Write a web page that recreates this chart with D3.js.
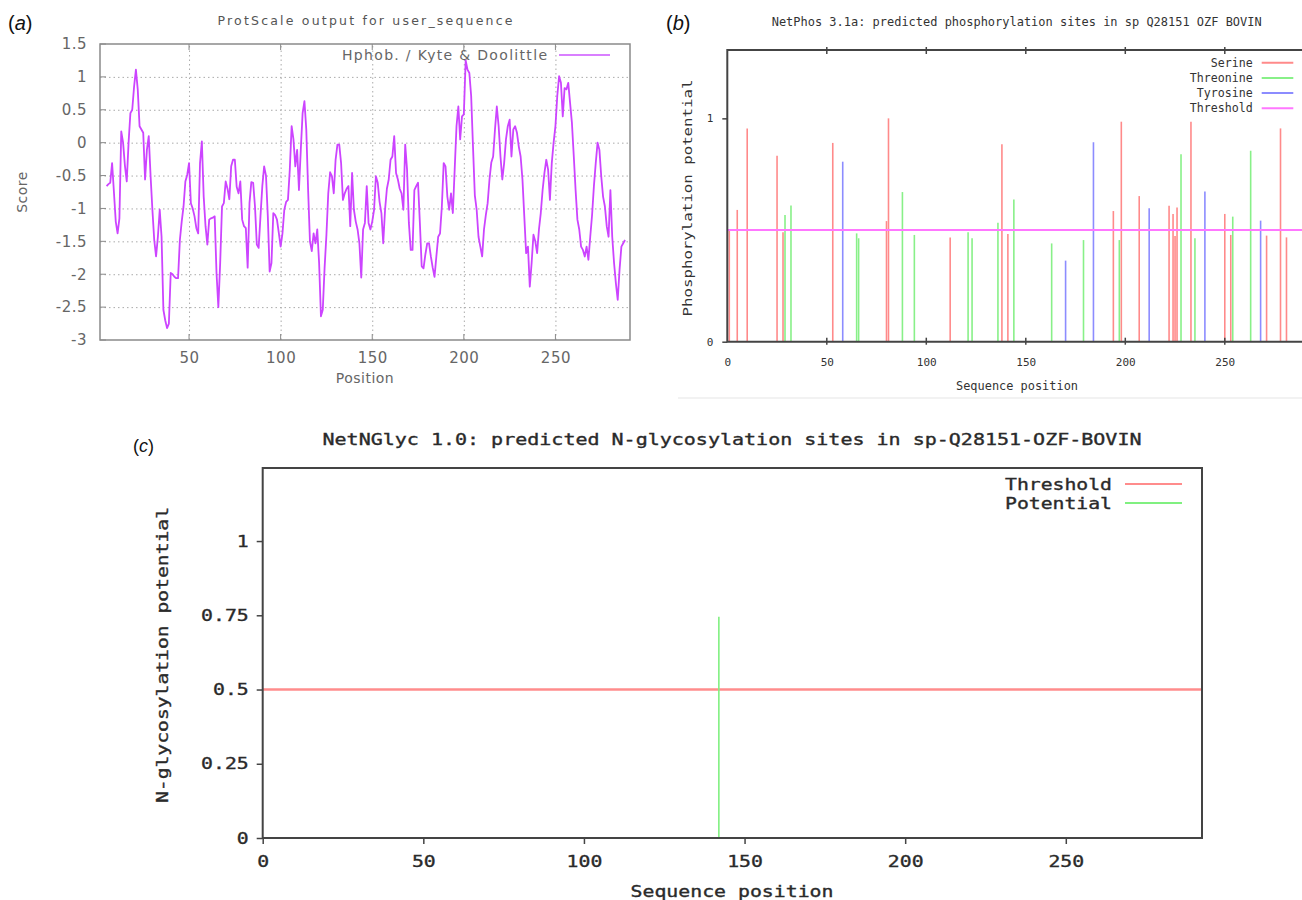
<!DOCTYPE html>
<html>
<head>
<meta charset="utf-8">
<script src="https://cdn.jsdelivr.net/npm/d3@7"></script>
<style>
  body { margin: 0; background: #fff; }
  svg { display: block; }
  .mono { font-family: "DejaVu Sans Mono", monospace; }
  .sans { font-family: "DejaVu Sans", sans-serif; }
</style>
</head>
<body>
<div id="chart"></div>
<script>
  // (a) ProtScale, Kyte & Doolittle hydrophobicity, positions 5..288
  const hydroStart = 5;
  const hydroScore = [
    -0.66,-0.63,-0.61,-0.31,-0.75,-1.2,-1.38,-1.15,0.17,0.0,
    -0.35,-0.59,0.0,0.45,0.5,0.85,1.11,0.81,0.25,0.2,
    0.15,-0.56,-0.11,0.1,-0.5,-1.02,-1.48,-1.73,-1.43,-1.02,
    -1.43,-2.54,-2.7,-2.82,-2.75,-1.98,-2.0,-2.04,-2.06,-2.06,
    -1.48,-1.2,-0.97,-0.59,-0.49,-0.31,-0.92,-1.0,-1.12,-1.3,
    -1.38,-0.31,0.02,-0.82,-1.27,-1.55,-1.17,-1.15,-1.14,-1.12,
    -1.98,-2.5,-1.83,-0.97,-0.92,-0.59,-0.7,-0.86,-0.36,-0.26,
    -0.26,-0.67,-0.77,-0.59,-1.17,-1.27,-1.3,-1.9,-0.92,-0.6,
    -0.61,-0.97,-1.55,-1.6,-1.12,-0.66,-0.36,-0.5,-1.12,-1.96,
    -1.83,-1.07,-1.1,-1.17,-1.37,-1.58,-1.38,-1.02,-0.9,-0.87,
    -0.41,0.25,0.05,-0.36,-0.11,-0.72,-0.11,0.45,0.63,0.2,
    -0.72,-1.5,-1.65,-1.38,-1.53,-1.32,-1.83,-2.64,-2.54,-1.9,
    -1.4,-0.77,-0.45,-0.51,-0.77,-0.26,-0.03,-0.03,-0.31,-0.87,
    -0.77,-0.7,-0.66,-1.27,-0.46,-1.02,-1.2,-1.32,-1.53,-2.05,
    -1.32,-1.22,-0.66,-1.22,-1.32,-1.2,-1.02,-0.51,-0.61,-0.9,
    -1.07,-1.53,-1.02,-0.7,-0.56,-0.26,-0.21,0.1,-0.46,-0.56,
    -0.7,-0.77,-1.02,-0.03,-0.41,-1.22,-1.63,-1.63,-0.72,-0.66,
    -0.61,-1.22,-1.88,-1.91,-1.7,-1.53,-1.53,-1.73,-1.9,-2.04,
    -1.73,-1.43,-1.38,-0.97,-0.31,-0.36,-0.82,-1.02,-0.77,-1.07,
    -0.41,0.25,0.55,0.05,0.4,0.43,1.25,1.11,1.06,0.71,
    -0.06,-0.8,-1.02,-1.43,-1.58,-1.73,-1.32,-1.1,-0.92,-0.56,
    -0.3,-0.21,0.2,0.55,0.25,-0.21,-0.56,-0.31,0.05,0.25,
    0.35,-0.21,0.2,0.25,0.15,-0.06,-0.21,-0.56,-1.12,-1.68,
    -1.58,-2.19,-1.83,-1.4,-1.5,-1.68,-1.32,-1.07,-0.72,-0.46,
    -0.26,-0.41,-0.87,-0.31,0.0,0.25,0.71,1.01,0.91,0.4,
    0.83,0.81,0.91,0.6,0.3,-0.2,-0.72,-1.17,-1.32,-1.58,
    -1.63,-1.73,-1.58,-1.78,-1.43,-1.1,-0.66,-0.31,0.0,-0.11,
    -0.51,-0.82,-0.97,-1.27,-1.43,-0.72,-1.43,-1.83,-2.14,-2.39,
    -1.93,-1.58,-1.53,-1.48
  ];
  const scoreTicks = [1.5, 1, 0.5, 0, -0.5, -1, -1.5, -2, -2.5, -3];
  const positionTicks = [50, 100, 150, 200, 250];

  // (b) NetPhos 3.1a, [position, potential]
  const serine = [[1,0.5],[5,0.59],[10,0.955],[25,0.833],[28,0.49],[53,0.89],[80,0.54],[81,1.0],
    [112,0.467],[138,0.884],[141,0.482],[194,0.585],[198,0.985],[207,0.652],[222,0.609],
    [224,0.572],[225,0.473],[226,0.601],[233,0.985],[250,0.572],[253,0.478],[271,0.475],
    [278,0.955],[281,0.467]];
  const threonine = [[29,0.567],[32,0.61],[65,0.485],[66,0.463],[88,0.67],[94,0.478],[121,0.49],
    [123,0.463],[136,0.533],[144,0.637],[163,0.44],[179,0.455],[197,0.455],[228,0.839],
    [235,0.463],[254,0.56],[263,0.855]];
  const tyrosine = [[58,0.806],[170,0.363],[184,0.893],[212,0.597],[240,0.672],[268,0.542]];
  const phosThreshold = 0.5;
  const phosLegend = ['Serine', 'Threonine', 'Tyrosine', 'Threshold'];
  const seqTicks = [0, 50, 100, 150, 200, 250];

  // (c) NetNGlyc 1.0
  const glycSites = [[142, 0.745]];
  const glycThreshold = 0.5;
  const glycTicks = [0, 0.25, 0.5, 0.75, 1];
  const glycLegend = ['Threshold', 'Potential'];

  const svg = d3.select('#chart').append('svg')
    .attr('width', 1302).attr('height', 900);

  function panelLabel(x, y, letter, size) {
    const t = svg.append('text').attr('x', x).attr('y', y)
      .attr('font-family', 'Liberation Sans, Arial, sans-serif')
      .attr('font-size', size).attr('fill', '#111');
    t.append('tspan').text('(');
    t.append('tspan').attr('font-style', 'italic').text(letter);
    t.append('tspan').text(')');
  }

  // ---------- (a) ----------
  const xA = d3.scaleLinear().domain([1.4, 290.7]).range([100, 630]);
  const yA = d3.scaleLinear().domain([-3, 1.5]).range([340, 44]);
  const a = svg.append('g').attr('class', 'sans');

  a.append('g')
    .attr('transform', 'translate(100,0)')
    .call(d3.axisLeft(yA).tickValues(scoreTicks.slice(1, -1)).tickSize(-530).tickFormat(''))
    .call(g => g.select('.domain').remove())
    .selectAll('line').attr('stroke', '#aaa').attr('stroke-dasharray', '1.5,3');
  a.append('g')
    .attr('transform', 'translate(0,340)')
    .call(d3.axisBottom(xA).tickValues(positionTicks).tickSize(-296).tickFormat(''))
    .call(g => g.select('.domain').remove())
    .selectAll('line').attr('stroke', '#aaa').attr('stroke-dasharray', '1.5,3');

  a.append('rect').attr('x', 100).attr('y', 44).attr('width', 530).attr('height', 296)
    .attr('fill', 'none').attr('stroke', '#8a8a8a').attr('stroke-width', 1.5);

  // inward tick marks
  a.append('g').selectAll('line').data(scoreTicks).join('line')
    .attr('x1', 100).attr('x2', 106).attr('y1', d => yA(d)).attr('y2', d => yA(d))
    .attr('stroke', '#8a8a8a');
  a.append('g').selectAll('line').data(positionTicks).join('line')
    .attr('x1', d => xA(d)).attr('x2', d => xA(d)).attr('y1', 340).attr('y2', 334)
    .attr('stroke', '#8a8a8a');
  a.append('g').selectAll('line').data(positionTicks).join('line')
    .attr('x1', d => xA(d)).attr('x2', d => xA(d)).attr('y1', 44).attr('y2', 50)
    .attr('stroke', '#8a8a8a');

  a.append('g')
    .attr('transform', 'translate(100,0)')
    .call(d3.axisLeft(yA).tickValues(scoreTicks).tickSize(0).tickPadding(13).tickFormat(d => String(d)))
    .call(g => g.select('.domain').remove())
    .selectAll('text').attr('fill', '#666').attr('font-size', 15)
    .attr('font-family', 'DejaVu Sans, sans-serif').attr('letter-spacing', 0.5);
  a.append('g')
    .attr('transform', 'translate(0,340)')
    .call(d3.axisBottom(xA).tickValues(positionTicks).tickSize(0).tickPadding(12).tickFormat(d => String(d)))
    .call(g => g.select('.domain').remove())
    .selectAll('text').attr('fill', '#666').attr('font-size', 15)
    .attr('font-family', 'DejaVu Sans, sans-serif').attr('letter-spacing', 0.5);

  a.append('text').attr('x', 365).attr('y', 25).attr('text-anchor', 'middle')
    .attr('font-size', 12.5).attr('fill', '#555')
    .attr('textLength', 295).attr('lengthAdjust', 'spacing')
    .text('ProtScale output for user_sequence');
  a.append('text').attr('x', 365).attr('y', 383).attr('text-anchor', 'middle')
    .attr('font-size', 14).attr('fill', '#666').attr('letter-spacing', 0.5).text('Position');
  a.append('text').attr('transform', 'translate(27,192) rotate(-90)').attr('text-anchor', 'middle')
    .attr('font-size', 14).attr('fill', '#666').attr('letter-spacing', 0.5).text('Score');

  a.append('text').attr('x', 342).attr('y', 60)
    .attr('font-size', 14).attr('fill', '#666')
    .attr('textLength', 205).attr('lengthAdjust', 'spacing')
    .text('Hphob. / Kyte & Doolittle');
  a.append('line').attr('x1', 559).attr('x2', 610).attr('y1', 55).attr('y2', 55)
    .attr('stroke', '#cc55ff').attr('stroke-width', 1.5);

  a.append('path')
    .datum(hydroScore)
    .attr('fill', 'none').attr('stroke', '#cc44ff').attr('stroke-width', 1.8)
    .attr('stroke-linejoin', 'round')
    .attr('d', d3.line().x((d, i) => xA(hydroStart + i)).y(d => yA(d)));

  panelLabel(8, 30, 'a', 20);

  // ---------- (b) ----------
  const xB = d3.scaleLinear().domain([0, 289]).range([727.3, 1302.4]);
  const yB = d3.scaleLinear().domain([0, 1.306]).range([341.7, 50]);
  const b = svg.append('g').attr('class', 'mono');
  const phosColor = { Serine: '#ff8a8a', Threonine: '#88f088', Tyrosine: '#8c8cff', Threshold: '#ff77ff' };

  const sites = [
    ...serine.map(d => ({ p: d[0], v: d[1], k: 'Serine' })),
    ...threonine.map(d => ({ p: d[0], v: d[1], k: 'Threonine' })),
    ...tyrosine.map(d => ({ p: d[0], v: d[1], k: 'Tyrosine' }))
  ];
  b.append('g').selectAll('line').data(sites).join('line')
    .attr('x1', d => xB(d.p)).attr('x2', d => xB(d.p))
    .attr('y1', yB(0)).attr('y2', d => yB(d.v))
    .attr('stroke', d => phosColor[d.k]).attr('stroke-width', 1.6);

  b.append('line').attr('x1', xB(0)).attr('x2', 1302).attr('y1', yB(phosThreshold)).attr('y2', yB(phosThreshold))
    .attr('stroke', phosColor.Threshold).attr('stroke-width', 2);

  // frame: left, top, bottom (right edge is cut off)
  b.append('path')
    .attr('d', `M1302,${yB(1.306)}H${xB(0)}V${yB(0)}H1302`)
    .attr('fill', 'none').attr('stroke', '#444').attr('stroke-width', 2);

  b.append('g').attr('transform', `translate(0,${yB(0)})`)
    .call(d3.axisBottom(xB).tickValues(seqTicks).tickSize(0).tickPadding(17).tickFormat(d => String(d)))
    .call(g => g.select('.domain').remove())
    .selectAll('text').attr('fill', '#333').attr('font-size', 11)
    .attr('font-family', 'DejaVu Sans Mono, monospace');
  b.append('g').selectAll('line').data(seqTicks.slice(1)).join('line')
    .attr('x1', d => xB(d)).attr('x2', d => xB(d)).attr('y1', yB(1.306) - 3).attr('y2', yB(1.306) + 4)
    .attr('stroke', '#444').attr('stroke-width', 1.5);
  b.append('g').selectAll('line').data(seqTicks.slice(1)).join('line')
    .attr('x1', d => xB(d)).attr('x2', d => xB(d)).attr('y1', yB(0) - 4).attr('y2', yB(0) + 3)
    .attr('stroke', '#444').attr('stroke-width', 1.5);

  b.append('g').attr('transform', `translate(${xB(0)},0)`)
    .call(d3.axisLeft(yB).tickValues([0, 1]).tickSize(5).tickPadding(9).tickFormat(d => String(d)))
    .call(g => g.select('.domain').remove())
    .call(g => g.selectAll('line').attr('stroke', '#444').attr('stroke-width', 1.5))
    .selectAll('text').attr('fill', '#333').attr('font-size', 11)
    .attr('font-family', 'DejaVu Sans Mono, monospace');

  b.append('text').attr('x', 1016.7).attr('y', 26).attr('text-anchor', 'middle')
    .attr('font-size', 12.5).attr('fill', '#333')
    .attr('textLength', 490).attr('lengthAdjust', 'spacingAndGlyphs')
    .text('NetPhos 3.1a: predicted phosphorylation sites in sp Q28151 OZF BOVIN');
  b.append('text').attr('x', 1017).attr('y', 390).attr('text-anchor', 'middle')
    .attr('font-size', 12.5).attr('fill', '#333')
    .attr('textLength', 122).attr('lengthAdjust', 'spacingAndGlyphs')
    .text('Sequence position');
  b.append('text').attr('transform', 'translate(692,198) rotate(-90)').attr('text-anchor', 'middle')
    .attr('font-size', 12.5).attr('fill', '#333')
    .attr('textLength', 237).attr('lengthAdjust', 'spacingAndGlyphs')
    .text('Phosphorylation potential');

  const legB = b.append('g').selectAll('g').data(phosLegend).join('g')
    .attr('transform', (d, i) => `translate(0,${62.7 + i * 15.2})`);
  legB.append('text').attr('x', 1252.7).attr('y', 4).attr('text-anchor', 'end')
    .attr('font-size', 12).attr('fill', '#333')
    .attr('textLength', d => d.length * 7).attr('lengthAdjust', 'spacingAndGlyphs')
    .text(d => d);
  legB.append('line').attr('x1', 1261.7).attr('x2', 1293.3)
    .attr('stroke', d => phosColor[d]).attr('stroke-width', 2);

  svg.append('line').attr('x1', 678).attr('x2', 1302).attr('y1', 398).attr('y2', 398)
    .attr('stroke', '#eee').attr('stroke-width', 1.5);

  panelLabel(666, 30, 'b', 20);

  // ---------- (c) ----------
  const xC = d3.scaleLinear().domain([0, 292.4]).range([262.7, 1202]);
  const yC = d3.scaleLinear().domain([0, 1.246]).range([838, 468]);
  const c = svg.append('g').attr('class', 'mono');
  const charW = 11.9;

  c.append('line').attr('x1', xC(0)).attr('x2', xC(292.4)).attr('y1', yC(glycThreshold)).attr('y2', yC(glycThreshold))
    .attr('stroke', '#ff8c8c').attr('stroke-width', 2.5);
  c.append('g').selectAll('line').data(glycSites).join('line')
    .attr('x1', d => xC(d[0])).attr('x2', d => xC(d[0]))
    .attr('y1', yC(0)).attr('y2', d => yC(d[1]))
    .attr('stroke', '#80f080').attr('stroke-width', 1.6);

  c.append('rect').attr('x', xC(0)).attr('y', yC(1.246))
    .attr('width', xC(292.4) - xC(0)).attr('height', yC(0) - yC(1.246))
    .attr('fill', 'none').attr('stroke', '#444').attr('stroke-width', 2);

  function monoText(sel) {
    sel.attr('fill', '#2a2a2a').attr('stroke', '#2a2a2a').attr('stroke-width', 0.35)
      .attr('font-size', 16).attr('font-family', 'DejaVu Sans Mono, monospace')
      .attr('lengthAdjust', 'spacingAndGlyphs')
      .attr('textLength', function () { return this.textContent.length * charW; });
  }

  c.append('g').attr('transform', `translate(${xC(0)},0)`)
    .call(d3.axisLeft(yC).tickValues(glycTicks).tickSize(6).tickPadding(8).tickFormat(d => String(d)))
    .call(g => g.select('.domain').remove())
    .call(g => g.selectAll('line').attr('stroke', '#444').attr('stroke-width', 1.5))
    .selectAll('text').call(monoText);
  c.append('g').attr('transform', `translate(0,${yC(0)})`)
    .call(d3.axisBottom(xC).tickValues(seqTicks).tickSize(6).tickPadding(12).tickFormat(d => String(d)))
    .call(g => g.select('.domain').remove())
    .call(g => g.selectAll('line').attr('stroke', '#444').attr('stroke-width', 1.5))
    .selectAll('text').call(monoText);

  c.append('text').attr('x', 732).attr('y', 445).attr('text-anchor', 'middle')
    .text('NetNGlyc 1.0: predicted N-glycosylation sites in sp-Q28151-OZF-BOVIN')
    .call(monoText).attr('textLength', 819);
  c.append('text').attr('x', 732).attr('y', 897).attr('text-anchor', 'middle')
    .text('Sequence position')
    .call(monoText).attr('textLength', 203);
  c.append('text').attr('transform', 'translate(168,655) rotate(-90)').attr('text-anchor', 'middle')
    .text('N-glycosylation potential')
    .call(monoText).attr('textLength', 296);

  const glycColor = { Threshold: '#ff8c8c', Potential: '#80f080' };
  const legC = c.append('g').selectAll('g').data(glycLegend).join('g')
    .attr('transform', (d, i) => `translate(0,${484 + i * 19})`);
  legC.append('text').attr('x', 1112).attr('y', 6).attr('text-anchor', 'end')
    .text(d => d)
    .call(monoText).attr('textLength', 107);
  legC.append('line').attr('x1', 1125).attr('x2', 1182)
    .attr('stroke', d => glycColor[d]).attr('stroke-width', 2);

  panelLabel(133, 452, 'c', 18);
</script>
</body>
</html>
